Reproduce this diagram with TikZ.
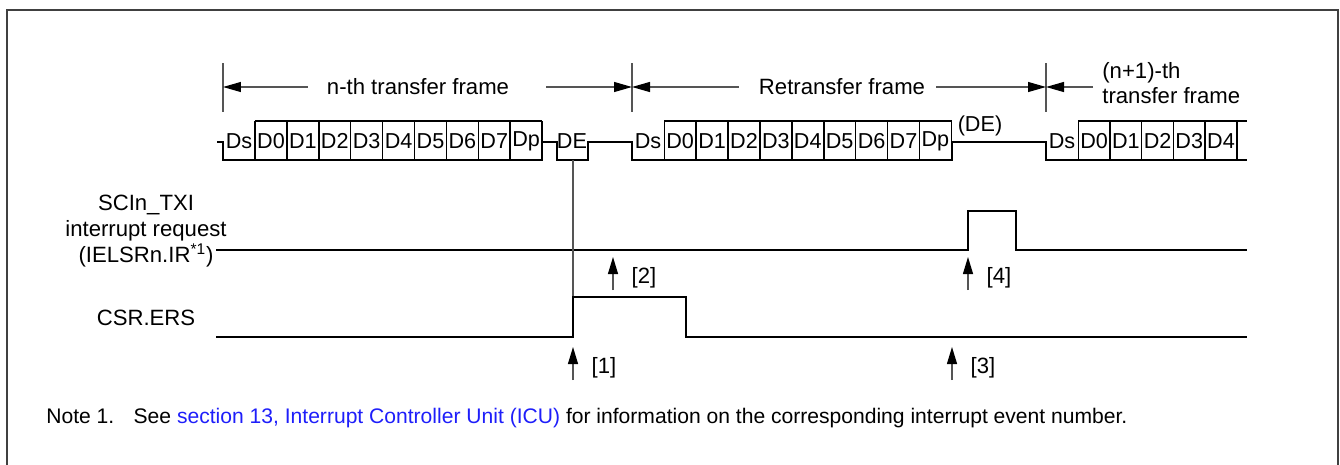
\documentclass[tikz,border=0pt]{standalone}
\usepackage{fontspec}
\setmainfont{Liberation Sans}
\usetikzlibrary{arrows.meta}
\definecolor{RNlink}{RGB}{30,30,250}
\definecolor{RNframe}{RGB}{64,64,64}
\definecolor{RNguide}{RGB}{85,85,85}
\tikzset{
  boxframe/.style={draw=RNframe,line width=1.1pt},
  wave/.style={draw=black,line width=0.85pt},
  sig/.style={draw=black,line width=1.3pt},
  guide/.style={draw=RNguide,line width=0.65pt},
  dimarr/.style={-{Triangle[length=0.36cm,width=0.2cm,black]},line width=0.65pt,draw=RNguide},
  evtarr/.style={-{Triangle[length=0.34cm,width=0.2cm,black]},line width=0.65pt,draw=RNguide},
  lbl/.style={font=\fontsize{12.6}{14.7}\selectfont,inner sep=0pt},
  bitlbl/.style={font=\fontsize{12.3}{14}\selectfont,inner sep=0pt},
  notelbl/.style={font=\fontsize{12}{14}\selectfont,inner sep=0pt}
}
\begin{document}
\begin{tikzpicture}[x=0.02cm,y=-0.02cm]
  \useasboundingbox (0,0) rectangle (1340,464);
  \draw[boxframe] (7,10) rectangle (1338,470);

  % frame markers
  \foreach \x/\n in {223/m1,632/m2,1046/m3} {
    \draw[guide] (\x,63) -- (\x,112);
    \coordinate (\n) at (\x,87);
  }
  \node[lbl] (nth) at (418,87) {n-th transfer frame};
  \node[lbl] (ret) at (842,87) {Retransfer frame};
  \node[lbl,align=left,anchor=west] (nxt) at (1102,83) {(n+1)-th\\transfer frame};
  \draw[dimarr] ([xshift=-0.38cm]nth.west) -- (m1);
  \draw[dimarr] ([xshift=0.74cm]nth.east) -- (m2);
  \draw[dimarr] ([xshift=-0.4cm]ret.west) -- (m2);
  \draw[dimarr] ([xshift=0.22cm]ret.east) -- (m3);
  \draw[dimarr] ([xshift=-0.18cm]nxt.west |- m3) -- (m3);

  % serial data line
  \draw[wave] (217,142) -| (223,160) -- (542,160) |- (557,142) |- (588,160)
    |- (632,142) |- (952,160) |- (1046,142) |- (1247,160);
  \draw[wave] (255,121) -- (542,121) (664,121) -- (952,121) (1078,121) -- (1247,121);
  \foreach \i in {0,...,9} {
    \draw[wave] ({255+31.9*\i},121) -- ++(0,39);
    \draw[wave] ({664.3+31.9*\i},121) -- ++(0,39);
  }
  \foreach \i in {0,...,5}
    \draw[wave] ({1078.3+31.7*\i},121) -- ++(0,39);
  \node[bitlbl] (aDs) at (239,141) {Ds};
  \node[bitlbl] (bDs) at (648,141) {Ds};
  \node[bitlbl] (cDs) at (1062,141) {Ds};
  \foreach \t [count=\i from 0] in {D0,D1,D2,D3,D4,D5,D6,D7,Dp} {
    \node[bitlbl] (a\t) at ({271+31.9*\i},141) {\t};
    \node[bitlbl] (b\t) at ({680.2+31.9*\i},141) {\t};
  }
  \foreach \t [count=\i from 0] in {D0,D1,D2,D3,D4}
    \node[bitlbl] (c\t) at ({1094.2+31.7*\i},141) {\t};
  \node[bitlbl] (de) at (572,141) {DE};
  \node[bitlbl] (dep) at (980,126) {(DE)};

  % signal names
  \node[lbl,align=center] (txi) at (146,231) {SCIn\_TXI\\interrupt request\\(IELSRn.IR\textsuperscript{*1})};
  \node[lbl] (ers) at (146,318) {CSR.ERS};

  % signals
  \draw[sig] (216,250) -- (968,250) |- (1016,211) |- (1247,250);
  \coordinate (deb) at (573,160);
  \coordinate (ersup) at (573,297);
  \draw[guide] (deb) -- (ersup);
  \draw[sig] (216,337) -| (ersup) -- (686,297) |- (1247,337);

  % events
  \foreach \x/\y/\n in {573/380/1,613/290/2,952/380/3,968/290/4} {
    \coordinate (e\n) at (\x,\y);
    \draw[evtarr] (e\n) -- ++(0,-33);
    \node[lbl] (l\n) at (\x+31,\y-12) {[\n]};
  }

  \node[notelbl,anchor=west] (note) at (46,418) {Note 1.\hspace{11pt}See \textcolor{RNlink}{section 13, Interrupt Controller Unit (ICU)} for information on the corresponding interrupt event number.};
\end{tikzpicture}
\end{document}
